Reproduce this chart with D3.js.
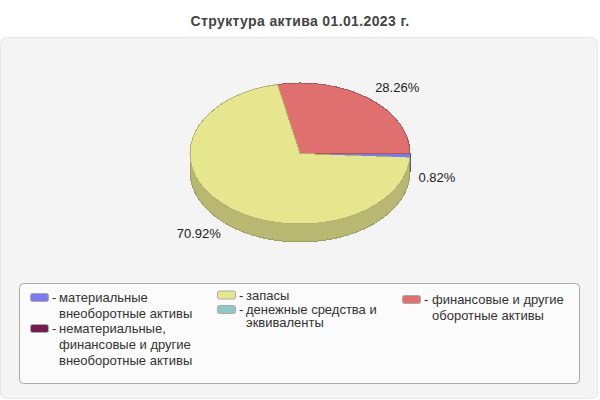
<!DOCTYPE html>
<html>
<head>
<meta charset="utf-8">
<script src="https://cdn.jsdelivr.net/npm/d3@7"></script>
<style>
  html, body { margin: 0; padding: 0; background: #fff; }
  svg { display: block; font-family: "Liberation Sans", Arial, sans-serif; }
</style>
</head>
<body>
<div id="chart"></div>
<script>
// Data
const titleText = "Структура актива 01.01.2023 г.";
const categories = ["материальные внеоборотные", "нематериальные", "запасы", "денежные средства", "финансовые и другие"];
const shares = [0.82, 0, 70.92, 0, 28.26];
const sliceColors = ["#7b7bee", "#751a55", "#e6e68f", "#8cc8c8", "#e07070"];
const legendLines = [
  ["материальные", "внеоборотные активы"],
  ["нематериальные,", "финансовые и другие", "внеоборотные активы"],
  ["запасы"],
  ["денежные средства и", "эквиваленты"],
  ["финансовые и другие", "оборотные активы"]
];

// Layout
const w = 600, h = 400;
const cx = 300, cy = 153.5, rx = 110, ry = 70.5, depth = 18;
const labelRx = 154, labelRy = 84;
// hand nudges for the value labels, by category index
const labelNudge = { 0: [-17, 22], 2: [-1, 17], 4: [0, 0] };
// paint order of the top faces, so the thin slice stays visible
const paintOrder = [4, 2, 0];
// x, y of first baseline, line step and text offset for each legend entry
const legendPos = [
  { x: 30, y: 302, step: 15.6, tx: 29 },
  { x: 30, y: 333, step: 16, tx: 29 },
  { x: 217, y: 299.5, step: 13, tx: 29 },
  { x: 217, y: 314, step: 13, tx: 29 },
  { x: 402, y: 304, step: 16, tx: 30 }
];

const svg = d3.select("#chart").append("svg")
  .attr("width", w)
  .attr("height", h)
  .attr("viewBox", [0, 0, w, h]);

// Panel and title
svg.append("rect")
  .attr("x", 0.5).attr("y", 37.5)
  .attr("width", 597).attr("height", 361)
  .attr("rx", 6)
  .attr("fill", "#f4f4f4")
  .attr("stroke", "#e6e6e6");

svg.append("text")
  .attr("x", 300).attr("y", 26)
  .attr("text-anchor", "middle")
  .attr("font-size", 14)
  .attr("letter-spacing", 0.37)
  .attr("font-weight", "bold")
  .attr("fill", "#444")
  .text(titleText);

// Pie, clockwise from 3 o'clock
const pie = d3.pie().sort(null).value(d => d)
  .startAngle(Math.PI / 2).endAngle(Math.PI * 2.5);
const slices = pie(shares).map((d, i) => ({ ...d, i }));
const drawn = slices.filter(d => d.value > 0);

// Side wall: only the part of each slice that faces the viewer
const wall = d3.area()
  .x(a => cx + rx * Math.sin(a))
  .y0(a => cy - ry * Math.cos(a))
  .y1(a => cy - ry * Math.cos(a) + depth);

const walls = svg.append("g").attr("shape-rendering", "crispEdges");
drawn.forEach(d => {
  const a0 = Math.max(d.startAngle, Math.PI / 2);
  const a1 = Math.min(d.endAngle, Math.PI * 1.5);
  if (a1 <= a0) return;
  const col = d3.color(sliceColors[d.i]).darker(0.63);
  walls.append("path")
    .attr("d", wall(d3.range(a0, a1, 0.005).concat([a1])))
    .attr("fill", col)
    .attr("stroke", col.darker(0.4))
    .attr("stroke-width", 1);
});

// Top face: unit circle squashed into the ellipse
const arc = d3.arc().innerRadius(0).outerRadius(rx);
svg.append("g")
  .attr("transform", `translate(${cx},${cy}) scale(1,${ry / rx})`)
  .attr("shape-rendering", "crispEdges")
  .selectAll("path")
  .data(paintOrder.map(i => slices[i]))
  .join("path")
  .attr("d", arc)
  .attr("fill", d => sliceColors[d.i])
  .attr("stroke", d => d.value < 5 ? "none" : d3.color(sliceColors[d.i]).darker(0.7))
  .attr("stroke-width", 1)
  .attr("vector-effect", "non-scaling-stroke");

// Value labels
svg.append("g")
  .selectAll("text")
  .data(drawn)
  .join("text")
  .attr("x", d => cx + labelRx * Math.sin((d.startAngle + d.endAngle) / 2) + labelNudge[d.i][0])
  .attr("y", d => cy - labelRy * Math.cos((d.startAngle + d.endAngle) / 2) + labelNudge[d.i][1] + 4)
  .attr("text-anchor", "middle")
  .attr("font-size", 13)
  .attr("fill", "#222")
  .text(d => d.value.toFixed(2) + "%");

// Legend
svg.append("rect")
  .attr("x", 19.5).attr("y", 283.5)
  .attr("width", 560).attr("height", 100)
  .attr("rx", 4)
  .attr("fill", "#fbfbfb")
  .attr("stroke", "#aaa");

const entries = svg.append("g")
  .selectAll("g")
  .data(categories)
  .join("g")
  .attr("transform", (d, i) => `translate(${legendPos[i].x},${legendPos[i].y})`);

entries.append("rect")
  .attr("x", 0.5).attr("y", -8.5)
  .attr("width", 18).attr("height", 8)
  .attr("rx", 2)
  .attr("fill", (d, i) => sliceColors[i])
  .attr("stroke", "#aaa");

entries.append("text")
  .attr("x", 22).attr("y", 0)
  .attr("font-size", 13)
  .attr("fill", "#333")
  .text("-");

entries.each(function (d, i) {
  d3.select(this).selectAll("text.line")
    .data(legendLines[i])
    .join("text")
    .attr("class", "line")
    .attr("x", legendPos[i].tx)
    .attr("y", (l, j) => j * legendPos[i].step)
    .attr("font-size", 13)
    .attr("fill", "#333")
    .text(l => l);
});
</script>
</body>
</html>
